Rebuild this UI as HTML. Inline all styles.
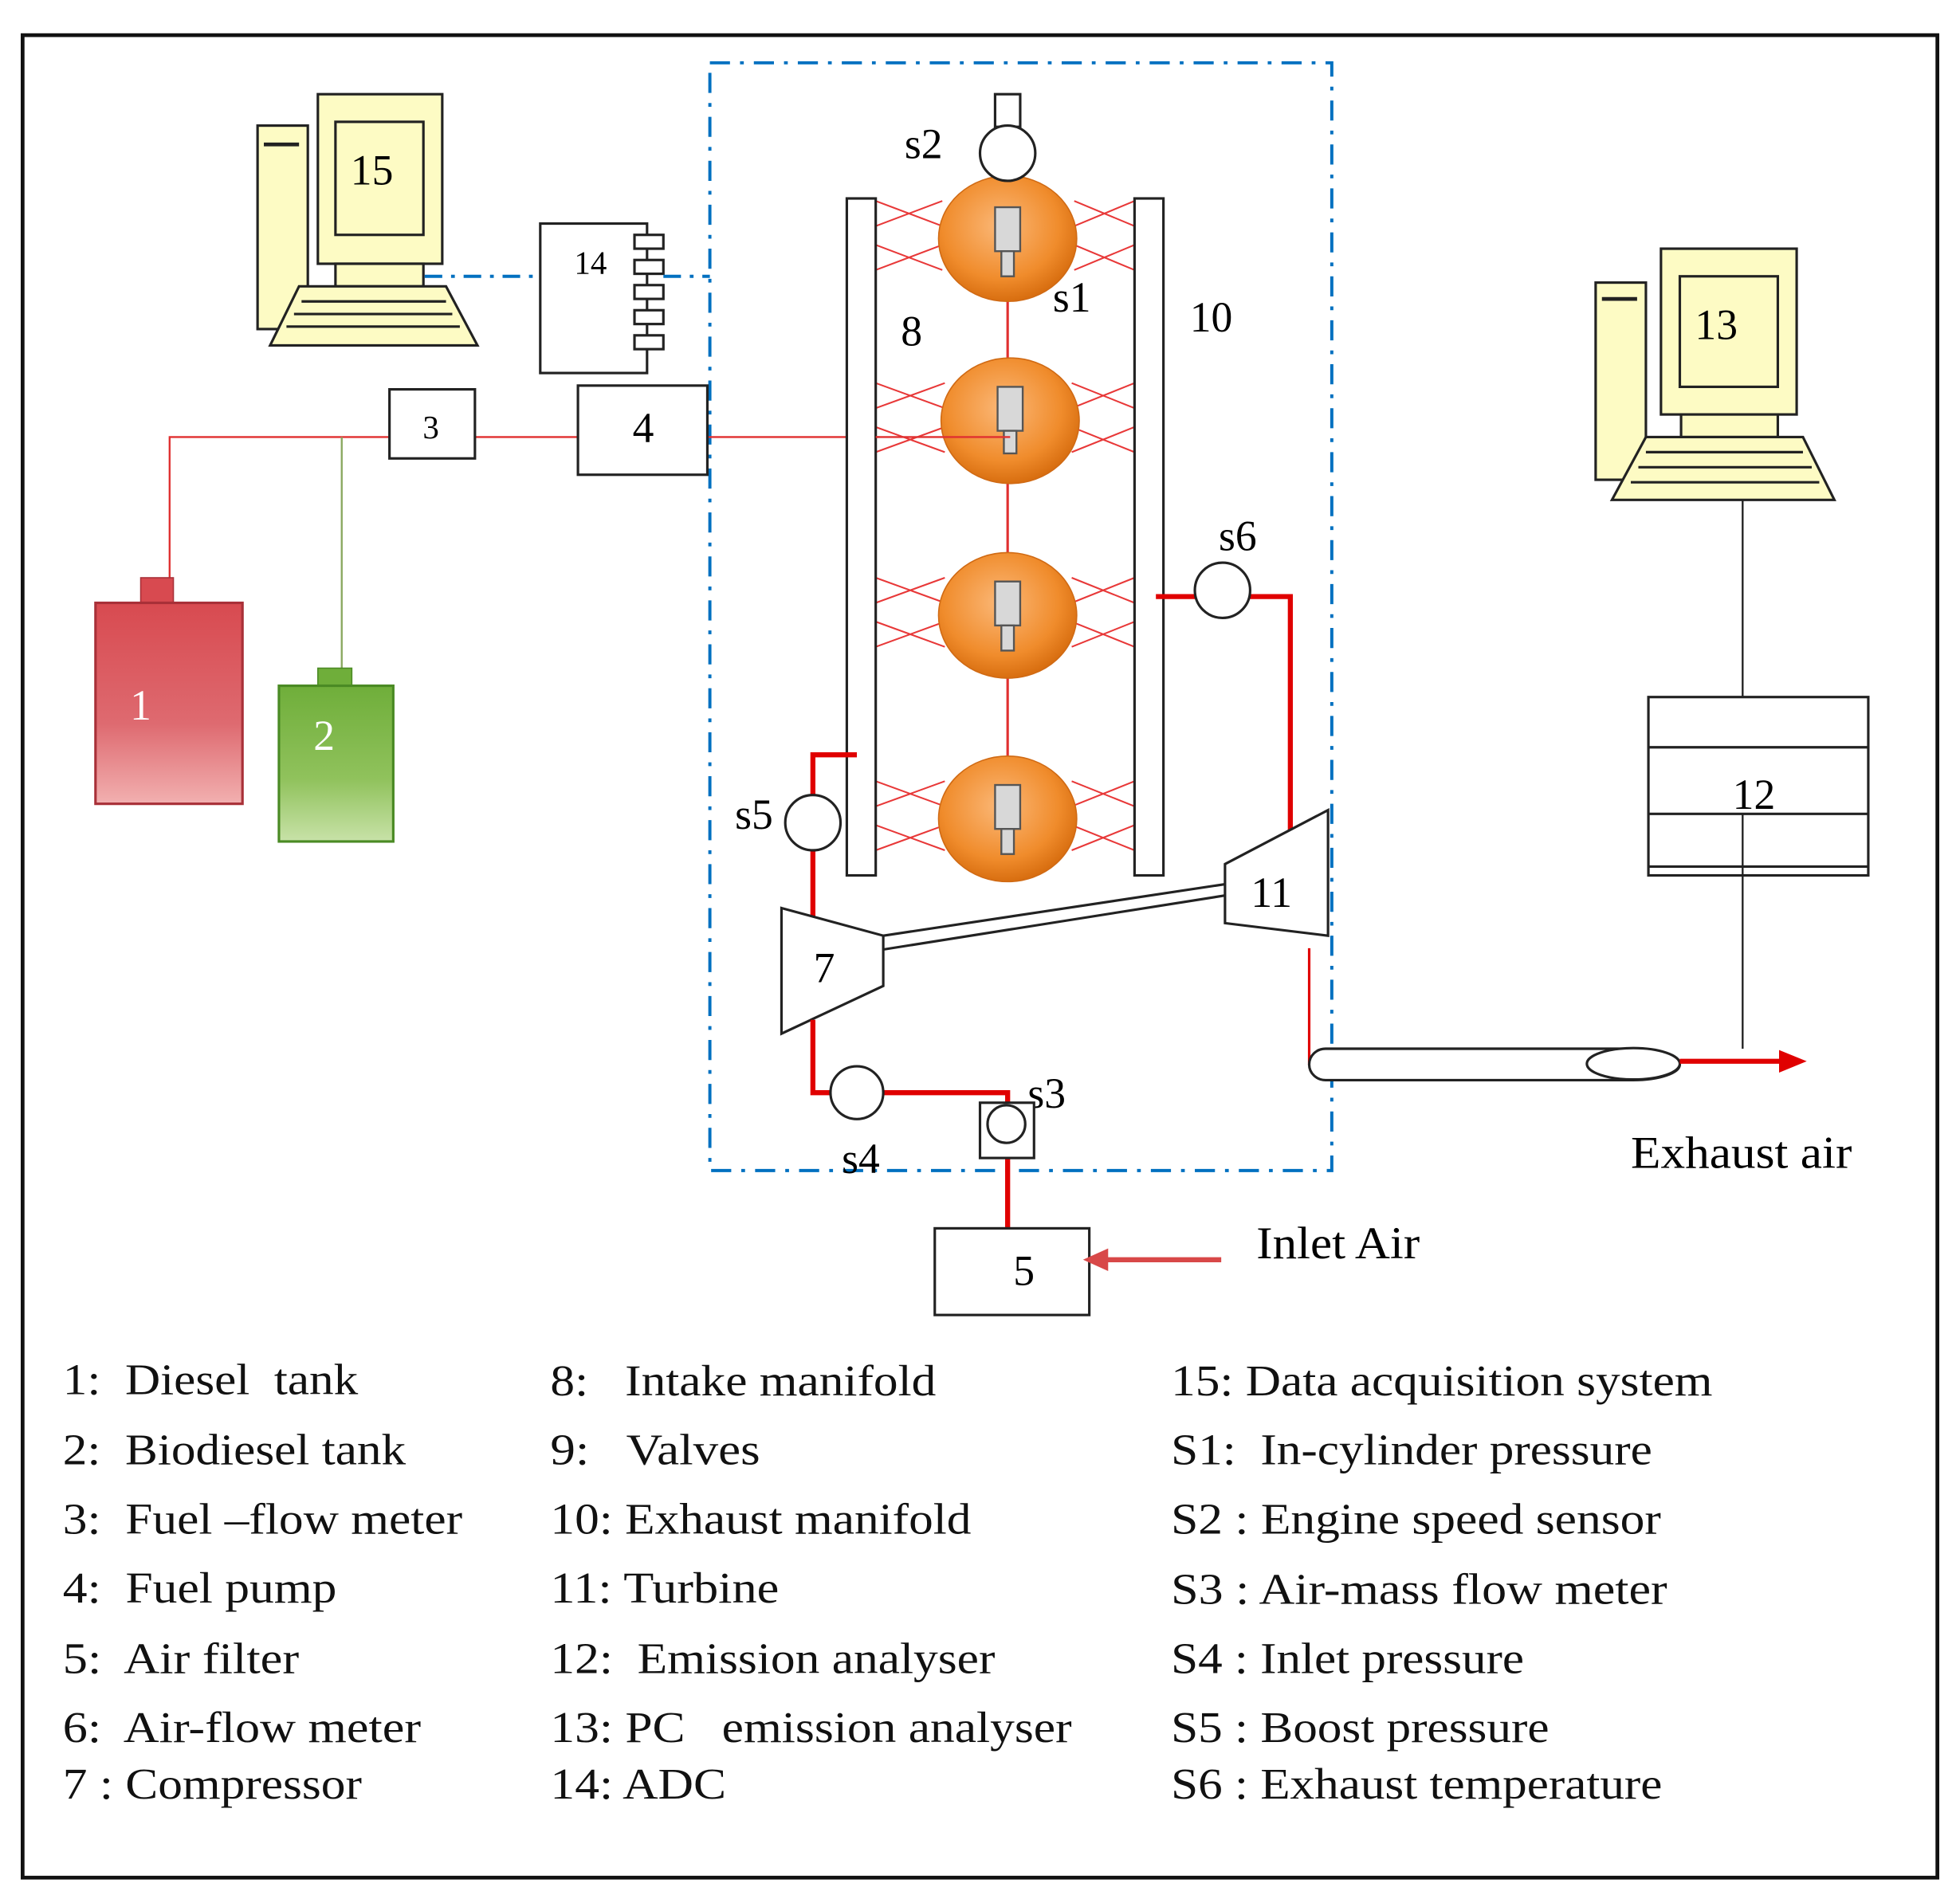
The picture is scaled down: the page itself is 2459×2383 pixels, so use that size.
<!DOCTYPE html>
<html><head><meta charset="utf-8"><style>
html,body{margin:0;padding:0;background:#fff;}
svg{display:block;}
text{font-family:"Liberation Serif",serif;white-space:pre;}
</style></head><body>
<svg width="2459" height="2383" viewBox="0 0 1560 1512" preserveAspectRatio="none" xmlns="http://www.w3.org/2000/svg">
<defs>
<radialGradient id="cyl" cx="0.45" cy="0.4" r="0.6"><stop offset="0" stop-color="#fbb878"/><stop offset="0.7" stop-color="#f08c2c"/><stop offset="1" stop-color="#d86e10"/></radialGradient>
<linearGradient id="t1" x1="0" y1="0" x2="0" y2="1"><stop offset="0" stop-color="#d84a50"/><stop offset="0.6" stop-color="#de6a70"/><stop offset="1" stop-color="#f2b0b0"/></linearGradient>
<linearGradient id="t2" x1="0" y1="0" x2="0" y2="1"><stop offset="0" stop-color="#6fae3a"/><stop offset="0.6" stop-color="#90c25c"/><stop offset="1" stop-color="#c8e2a8"/></linearGradient>
</defs>
<rect x="0" y="0" width="1560" height="1512" fill="#fff"/>
<rect x="18" y="28" width="1524" height="1467" fill="none" stroke="#111" stroke-width="3"/>
<rect x="565" y="50" width="495" height="882" fill="none" stroke="#0070c0" stroke-width="2.5" stroke-dasharray="16,8,3,8"/>
<!-- computer 15 -->
<g stroke="#222" stroke-width="2" fill="#fdfbc4">
<rect x="205" y="100" width="40" height="162"/>
<line x1="210" y1="115" x2="238" y2="115" stroke-width="3"/>
<rect x="253" y="75" width="99" height="135"/>
<rect x="267" y="97" width="70" height="90"/>
<rect x="267" y="210" width="70" height="18"/>
<polygon points="238,228 355,228 380,275 215,275"/>
<line x1="240" y1="240" x2="355" y2="240"/><line x1="234" y1="250" x2="360" y2="250"/><line x1="228" y1="260" x2="366" y2="260"/>
</g>
<text x="296" y="147" font-size="34" text-anchor="middle">15</text>
<!-- 14 -->
<rect x="430" y="178" width="85" height="119" fill="#fff" stroke="#222" stroke-width="2"/>
<g fill="#fff" stroke="#222" stroke-width="2">
<rect x="505" y="187" width="23" height="11"/><rect x="505" y="207" width="23" height="11"/><rect x="505" y="227" width="23" height="11"/><rect x="505" y="247" width="23" height="11"/><rect x="505" y="267" width="23" height="11"/>
</g>
<text x="470" y="218" font-size="26" text-anchor="middle">14</text>
<g stroke="#0070c0" stroke-width="2.5" stroke-dasharray="14,7,3,7"><line x1="338" y1="220" x2="430" y2="220"/><line x1="528" y1="220" x2="565" y2="220"/></g>
<!-- fuel lines -->
<polyline points="135,462 135,348 700,348" fill="none" stroke="#e03030" stroke-width="1.5"/>
<line x1="272" y1="348" x2="272" y2="532" stroke="#8aa860" stroke-width="1.5"/>
<rect x="310" y="310" width="68" height="55" fill="#fff" stroke="#222" stroke-width="2"/>
<text x="343" y="349" font-size="26" text-anchor="middle">3</text>
<rect x="460" y="307" width="103" height="71" fill="#fff" stroke="#222" stroke-width="2"/>
<text x="512" y="352" font-size="34" text-anchor="middle">4</text>
<!-- tanks -->
<rect x="112" y="460" width="26" height="20" fill="#d84a50" stroke="#a83038"/>
<rect x="76" y="480" width="117" height="160" fill="url(#t1)" stroke="#a83038" stroke-width="2"/>
<text x="112" y="573" font-size="34" fill="#fff" text-anchor="middle">1</text>
<rect x="253" y="532" width="27" height="14" fill="#6fae3a" stroke="#4a8a24"/>
<rect x="222" y="546" width="91" height="124" fill="url(#t2)" stroke="#4a8a24" stroke-width="2"/>
<text x="258" y="597" font-size="34" fill="#fff" text-anchor="middle">2</text>
<!-- engine -->
<line x1="802" y1="190" x2="802" y2="652" stroke="#e03030" stroke-width="2"/>
<g stroke="#e83838" stroke-width="1.3">
<path d="M697,160 L750,180 M697,180 L750,160 M697,195 L750,215 M697,215 L750,195 M855,160 L903,180 M855,180 L903,160 M855,195 L903,215 M855,215 L903,195"/>
<path d="M697,305 L752,325 M697,325 L752,305 M697,340 L752,360 M697,360 L752,340 M853,305 L903,325 M853,325 L903,305 M853,340 L903,360 M853,360 L903,340"/>
<path d="M697,460 L752,480 M697,480 L752,460 M697,495 L752,515 M697,515 L752,495 M853,460 L903,480 M853,480 L903,460 M853,495 L903,515 M853,515 L903,495"/>
<path d="M697,622 L752,642 M697,642 L752,622 M697,657 L752,677 M697,677 L752,657 M853,622 L903,642 M853,642 L903,622 M853,657 L903,677 M853,677 L903,657"/>
</g>
<rect x="674" y="158" width="23" height="539" fill="#fff" stroke="#222" stroke-width="2"/>
<rect x="903" y="158" width="23" height="539" fill="#fff" stroke="#222" stroke-width="2"/>
<g>
<ellipse cx="802" cy="190" rx="55" ry="50" fill="url(#cyl)" stroke="#d06a14"/>
<ellipse cx="804" cy="335" rx="55" ry="50" fill="url(#cyl)" stroke="#d06a14"/>
<ellipse cx="802" cy="490" rx="55" ry="50" fill="url(#cyl)" stroke="#d06a14"/>
<ellipse cx="802" cy="652" rx="55" ry="50" fill="url(#cyl)" stroke="#d06a14"/>
</g>
<g fill="#d8d8d8" stroke="#555" stroke-width="1.5">
<rect x="792" y="165" width="20" height="35"/><rect x="797" y="200" width="10" height="20"/>
<rect x="794" y="308" width="20" height="35"/><rect x="799" y="343" width="10" height="18"/>
<rect x="792" y="463" width="20" height="35"/><rect x="797" y="498" width="10" height="20"/>
<rect x="792" y="625" width="20" height="35"/><rect x="797" y="660" width="10" height="20"/>
</g>
<line x1="697" y1="348" x2="804" y2="348" stroke="#e03030" stroke-width="1.5"/>
<!-- s2 -->
<rect x="792" y="75" width="20" height="26" fill="#fff" stroke="#222" stroke-width="2"/>
<circle cx="802" cy="122" r="22" fill="#fff" stroke="#222" stroke-width="2"/>
<g font-size="34">
<text x="720" y="126">s2</text>
<text x="838" y="248">s1</text>
<text x="717" y="275">8</text>
<text x="947" y="264">10</text>
<text x="970" y="438">s6</text>
<text x="585" y="660">s5</text>
<text x="670" y="934">s4</text>
<text x="818" y="882">s3</text>
</g>
<!-- s6 / turbine -->
<polyline points="920,475 951,475" fill="none" stroke="#e00000" stroke-width="4"/>
<polyline points="995,475 1027,475 1027,662" fill="none" stroke="#e00000" stroke-width="4"/>
<circle cx="973" cy="470" r="22" fill="#fff" stroke="#222" stroke-width="2"/>
<polygon points="975,688 1057,645 1057,745 975,735" fill="#fff" stroke="#222" stroke-width="2"/>
<text x="1012" y="722" font-size="34" text-anchor="middle">11</text>
<!-- compressor -->
<polyline points="682,601 647,601 647,740" fill="none" stroke="#e00000" stroke-width="4"/>
<circle cx="647" cy="655" r="22" fill="#fff" stroke="#222" stroke-width="2"/>
<line x1="703" y1="745" x2="975" y2="704" stroke="#222" stroke-width="2"/>
<line x1="703" y1="756" x2="975" y2="713" stroke="#222" stroke-width="2"/>
<polygon points="622,723 703,745 703,785 622,823" fill="#fff" stroke="#222" stroke-width="2"/>
<text x="656" y="782" font-size="34" text-anchor="middle">7</text>
<polyline points="647,812 647,870 662,870" fill="none" stroke="#e00000" stroke-width="4"/>
<polyline points="702,870 802,870 802,880" fill="none" stroke="#e00000" stroke-width="4"/>
<circle cx="682" cy="870" r="21" fill="#fff" stroke="#222" stroke-width="2"/>
<line x1="802" y1="922" x2="802" y2="978" stroke="#e00000" stroke-width="4"/>
<rect x="780" y="878" width="43" height="44" fill="#fff" stroke="#222" stroke-width="2"/>
<circle cx="801" cy="895" r="15" fill="#fff" stroke="#222" stroke-width="2"/>
<rect x="744" y="978" width="123" height="69" fill="#fff" stroke="#222" stroke-width="2"/>
<text x="815" y="1023" font-size="34" text-anchor="middle">5</text>
<line x1="972" y1="1003" x2="878" y2="1003" stroke="#d84848" stroke-width="4"/>
<polygon points="862,1003 882,994 882,1012" fill="#d84848"/>
<text x="1000" y="1002" font-size="36" textLength="130" lengthAdjust="spacingAndGlyphs">Inlet Air</text>
<!-- exhaust -->
<polyline points="1042,755 1042,848" fill="none" stroke="#e00000" stroke-width="2"/>
<path d="M1055,835 L1300,835 A37,12.5 0 0 1 1300,860 L1055,860 A13,12.5 0 0 1 1055,835 Z" fill="#fff" stroke="#222" stroke-width="2"/>
<ellipse cx="1300" cy="847" rx="37" ry="12.5" fill="#fff" stroke="#222" stroke-width="2"/>
<line x1="1337" y1="845" x2="1418" y2="845" stroke="#e00000" stroke-width="4"/>
<polygon points="1438,845 1416,836 1416,854" fill="#e00000"/>
<text x="1298" y="930" font-size="36" textLength="176" lengthAdjust="spacingAndGlyphs">Exhaust air</text>
<!-- computer 13 -->
<g stroke="#222" stroke-width="2" fill="#fdfbc4">
<rect x="1270" y="225" width="40" height="157"/>
<line x1="1275" y1="238" x2="1303" y2="238" stroke-width="3"/>
<rect x="1322" y="198" width="108" height="132"/>
<rect x="1337" y="220" width="78" height="88"/>
<rect x="1338" y="330" width="77" height="18"/>
<polygon points="1310,348 1435,348 1460,398 1283,398"/>
<line x1="1310" y1="360" x2="1435" y2="360"/><line x1="1304" y1="372" x2="1442" y2="372"/><line x1="1298" y1="384" x2="1448" y2="384"/>
</g>
<text x="1366" y="270" font-size="34" text-anchor="middle">13</text>
<line x1="1387" y1="398" x2="1387" y2="555" stroke="#222" stroke-width="1.5"/>
<rect x="1312" y="555" width="175" height="142" fill="#fff" stroke="#222" stroke-width="2"/>
<line x1="1312" y1="595" x2="1487" y2="595" stroke="#222" stroke-width="2"/>
<line x1="1312" y1="648" x2="1487" y2="648" stroke="#222" stroke-width="2"/>
<line x1="1312" y1="690" x2="1487" y2="690" stroke="#222" stroke-width="2"/>
<text x="1396" y="644" font-size="34" text-anchor="middle">12</text>
<line x1="1387" y1="648" x2="1387" y2="835" stroke="#222" stroke-width="1.5"/>
<!-- legend -->
<g font-size="35" fill="#111" lengthAdjust="spacingAndGlyphs">
<text x="50" y="1110" textLength="235" lengthAdjust="spacingAndGlyphs">1:  Diesel  tank</text>
<text x="50" y="1166" textLength="273" lengthAdjust="spacingAndGlyphs">2:  Biodiesel tank</text>
<text x="50" y="1221" textLength="318" lengthAdjust="spacingAndGlyphs">3:  Fuel –flow meter</text>
<text x="50" y="1276" textLength="218" lengthAdjust="spacingAndGlyphs">4:  Fuel pump</text>
<text x="50" y="1332" textLength="188" lengthAdjust="spacingAndGlyphs">5:  Air filter</text>
<text x="50" y="1387" textLength="285" lengthAdjust="spacingAndGlyphs">6:  Air-flow meter</text>
<text x="50" y="1432" textLength="238" lengthAdjust="spacingAndGlyphs">7 : Compressor</text>
<text x="438" y="1111" textLength="307" lengthAdjust="spacingAndGlyphs">8:   Intake manifold</text>
<text x="438" y="1166" textLength="167" lengthAdjust="spacingAndGlyphs">9:   Valves</text>
<text x="438" y="1221" textLength="335" lengthAdjust="spacingAndGlyphs">10: Exhaust manifold</text>
<text x="438" y="1276" textLength="182" lengthAdjust="spacingAndGlyphs">11: Turbine</text>
<text x="438" y="1332" textLength="354" lengthAdjust="spacingAndGlyphs">12:  Emission analyser</text>
<text x="438" y="1387" textLength="415" lengthAdjust="spacingAndGlyphs">13: PC   emission analyser</text>
<text x="438" y="1432" textLength="140" lengthAdjust="spacingAndGlyphs">14: ADC</text>
<text x="932" y="1111" textLength="431" lengthAdjust="spacingAndGlyphs">15: Data acquisition system</text>
<text x="932" y="1166" textLength="383" lengthAdjust="spacingAndGlyphs">S1:  In-cylinder pressure</text>
<text x="932" y="1221" textLength="390" lengthAdjust="spacingAndGlyphs">S2 : Engine speed sensor</text>
<text x="932" y="1277" textLength="395" lengthAdjust="spacingAndGlyphs">S3 : Air-mass flow meter</text>
<text x="932" y="1332" textLength="281" lengthAdjust="spacingAndGlyphs">S4 : Inlet pressure</text>
<text x="932" y="1387" textLength="301" lengthAdjust="spacingAndGlyphs">S5 : Boost pressure</text>
<text x="932" y="1432" textLength="391" lengthAdjust="spacingAndGlyphs">S6 : Exhaust temperature</text>
</g>
</svg>
</body></html>
